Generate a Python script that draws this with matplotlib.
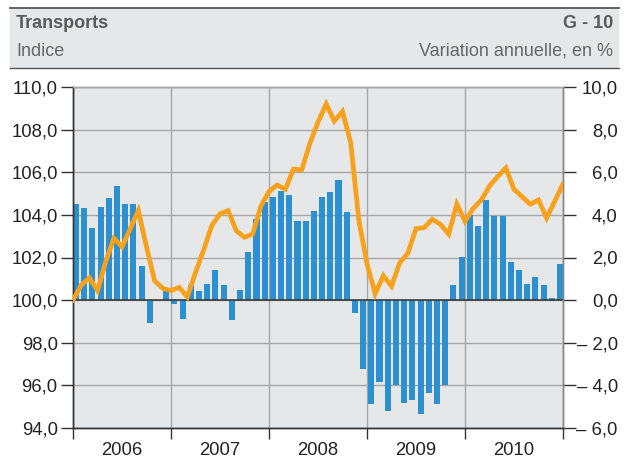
import matplotlib
matplotlib.use("Agg")
import matplotlib.pyplot as plt
from matplotlib.patches import Rectangle
import numpy as np

plt.rcParams['font.family'] = ['Liberation Sans', 'DejaVu Sans']

# annual variation in % (bars), Jan 2006 .. Dec 2010
var_2006 = [4.52, 4.31, 3.38, 4.36, 4.78, 5.34, 4.52, 4.52, 1.59, -1.06, 0.0, 0.5]
var_2007 = [-0.2, -0.88, 0.7, 0.42, 0.75, 1.41, 0.7, -0.94, 0.47, 2.25, 3.8, 4.6]
var_2008 = [4.83, 5.1, 4.92, 3.7, 3.7, 4.17, 4.83, 5.06, 5.62, 4.12, -0.6, -3.22]
var_2009 = [-4.86, -3.83, -5.19, -4.0, -4.81, -4.67, -5.33, -4.34, -4.86, -4.0, 0.7, 2.02]
var_2010 = [3.98, 3.47, 4.69, 3.94, 3.94, 1.78, 1.41, 0.75, 1.08, 0.7, 0.1, 1.69]
variation = var_2006 + var_2007 + var_2008 + var_2009 + var_2010

# index (line), Dec 2005 = 100 .. Dec 2010
index = [100.0,
         100.7, 101.05, 100.45, 101.8, 102.9, 102.5, 103.35, 104.2, 102.5, 100.9, 100.55, 100.45,
         100.6, 100.15, 101.3, 102.35, 103.5, 104.05, 104.2, 103.25, 102.95, 103.1, 104.4, 105.1,
         105.4, 105.2, 106.15, 106.1, 107.35, 108.35, 109.2, 108.4, 108.85, 107.4, 103.75, 101.7,
         100.3, 101.15, 100.65, 101.75, 102.2, 103.35, 103.4, 103.8, 103.55, 103.1, 104.5, 103.7,
         104.3, 104.7, 105.35, 105.8, 106.2, 105.2, 104.85, 104.5, 104.7, 103.85, 104.65, 105.45]

years = ["2006", "2007", "2008", "2009", "2010"]
left_ticks = [94, 96, 98, 100, 102, 104, 106, 108, 110]
right_ticks = [-6, -4, -2, 0, 2, 4, 6, 8, 10]

bg = "#e6e7e8"
blue = "#2b8fd0"
orange = "#f7a11d"
dark = "#222222"

fig = plt.figure(figsize=(6.35, 4.59), dpi=100)
W, H = 635, 459

# header band
fig.patches.append(Rectangle((10 / W, 1 - 68 / H), 609 / W, 60 / H, transform=fig.transFigure,
                             facecolor=bg, edgecolor="none", zorder=0))
fig.add_artist(plt.Line2D([10 / W, 619 / W], [1 - 8 / H] * 2, color="#555555", lw=1.3))
fig.add_artist(plt.Line2D([10 / W, 619 / W], [1 - 68 / H] * 2, color="#555555", lw=1.0))
fig.text(16 / W, 1 - 24 / H, "Transports", fontsize=13, fontweight="bold", color="#5a5a5a", va="center")
fig.text(613 / W, 1 - 24 / H, "G - 10", fontsize=13, fontweight="bold", color="#5a5a5a", va="center", ha="right")
fig.text(16 / W, 1 - 51 / H, "Indice", fontsize=13, color="#666666", va="center")
fig.text(613 / W, 1 - 51 / H, "Variation annuelle, en %", fontsize=13, color="#666666", va="center", ha="right")

rect = [73 / W, 1 - 428 / H, 490 / W, 341 / H]
ax2 = fig.add_axes(rect)            # bars, right axis
ax = ax2.twinx()                    # line, left axis
ax.yaxis.tick_left()
ax.yaxis.set_label_position("left")
ax2.yaxis.tick_right()
ax.set_zorder(ax2.get_zorder() + 1)
ax.patch.set_visible(False)
ax2.set_facecolor(bg)

n = len(variation)
bar_x = np.linspace(0.37, n - 0.37, n)
ax2.bar(bar_x, variation, width=0.74, color=blue, zorder=2)
ax2.axhline(0, color="#333333", lw=1.1, zorder=3)
ax2.set_ylim(-6, 10)
ax2.set_xlim(0, 60)
ax2.set_axisbelow(True)
ax2.grid(True, color="#a6a6a6", lw=1.0)

line_x = np.arange(len(index))
ax.plot(line_x, index, color=orange, lw=3.4, solid_joinstyle="miter", zorder=4)
ax.set_ylim(94, 110)
ax.set_xlim(0, 60)

def fmt(v):
    s = f"{abs(v):.1f}".replace(".", ",")
    return ("\u2013 " + s) if v < 0 else s

ax.set_yticks(left_ticks)
ax.set_yticklabels([fmt(v) for v in left_ticks])
ax2.set_yticks(right_ticks)
ax2.set_yticklabels([fmt(v) for v in right_ticks], ha="right")

ax2.set_xticks(range(0, 61, 12))
ax2.set_xticklabels([])
ax2.set_xticks(np.arange(6, 60, 12), minor=True)
ax2.set_xticklabels(years, minor=True)
ax2.tick_params(axis="x", which="major", length=8, width=1, color="#333333")
ax2.tick_params(axis="x", which="minor", length=0, pad=10, labelsize=13.3, labelcolor=dark)
ax.tick_params(axis="x", which="both", bottom=False, labelbottom=False)

ax.tick_params(axis="y", length=9, width=1, color="#333333", labelsize=13.3, labelcolor=dark, pad=2)
ax2.tick_params(axis="y", length=9, width=1, color="#333333", labelsize=13.3, labelcolor=dark, pad=30.5)

for a in (ax, ax2):
    a.spines["top"].set_color("#a6a6a6")
    a.spines["right"].set_color("#888888")
    a.spines["left"].set_color("#333333")
    a.spines["bottom"].set_color("#333333")
    for s in a.spines.values():
        s.set_linewidth(1.0)

fig.savefig("out.png", dpi=100)
